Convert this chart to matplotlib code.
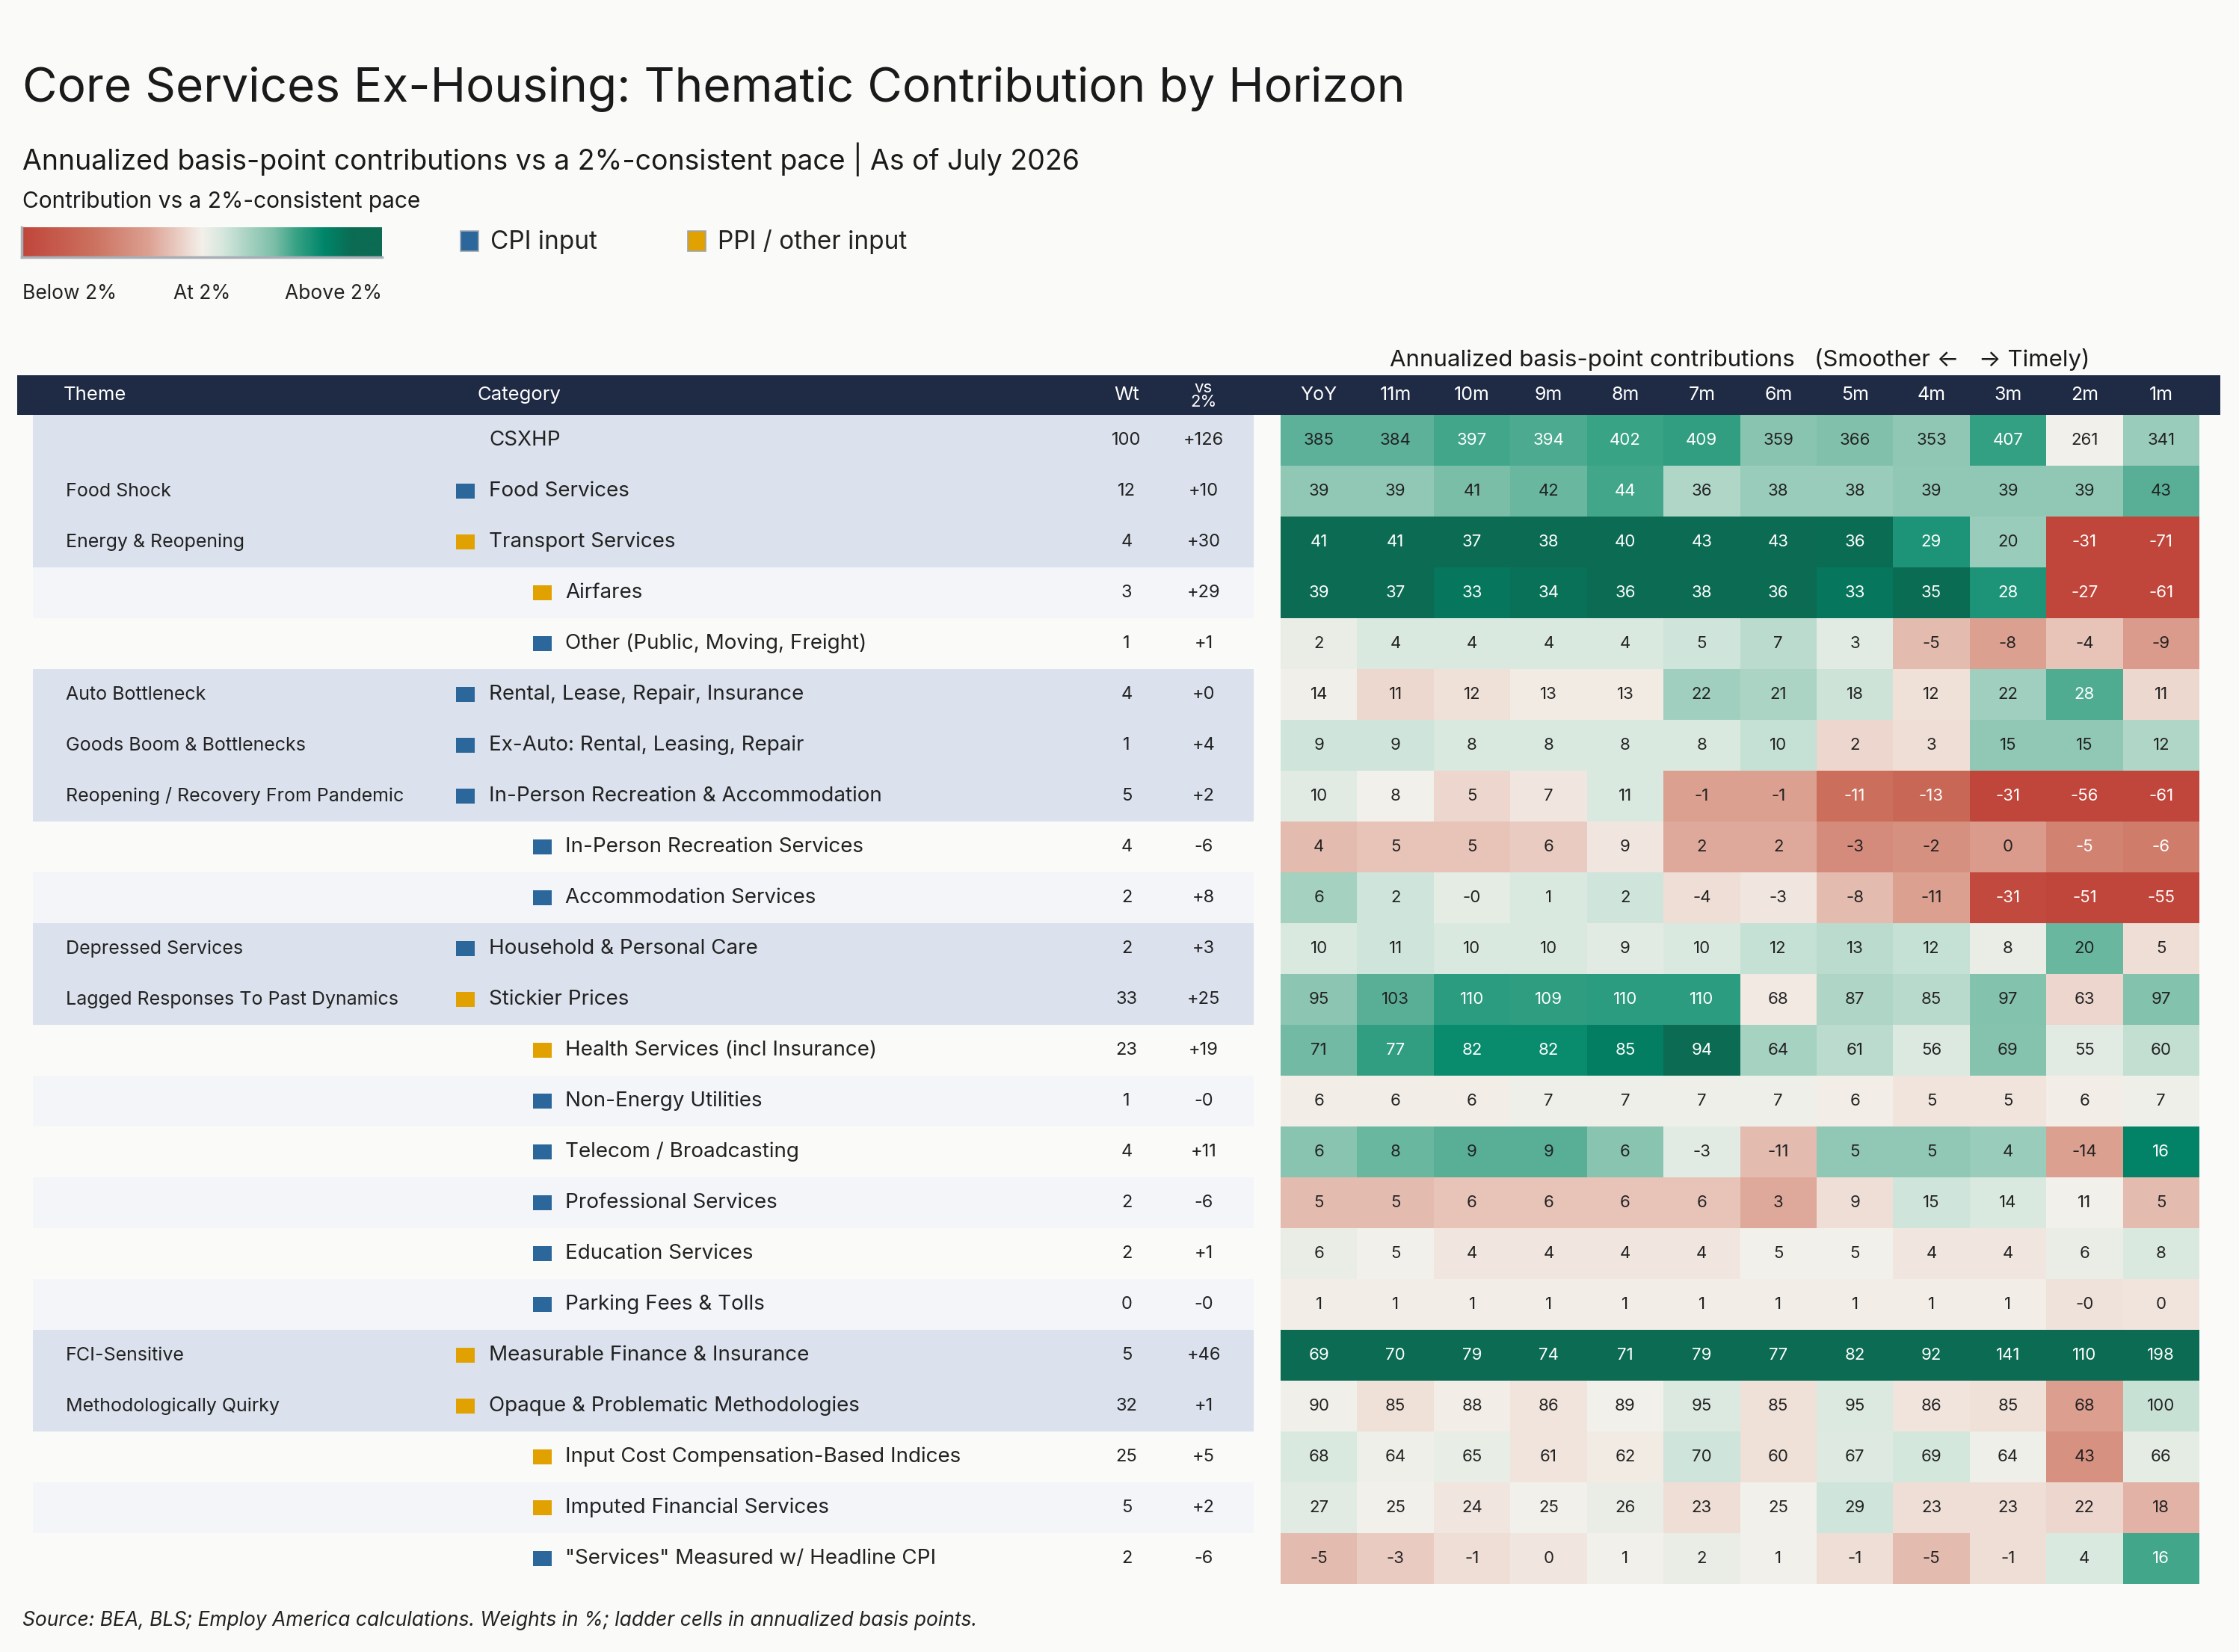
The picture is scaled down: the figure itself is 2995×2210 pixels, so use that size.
import numpy as np
import matplotlib
matplotlib.use("Agg")
import matplotlib.pyplot as plt
from matplotlib.colors import LinearSegmentedColormap
from matplotlib.patches import Rectangle

plt.rcParams['font.family'] = ['Inter', 'DejaVu Sans']

# ---------------- data ----------------
horizons = ['YoY', '11m', '10m', '9m', '8m', '7m', '6m', '5m', '4m', '3m', '2m', '1m']

themes = ['', 'Food Shock', 'Energy & Reopening', '', '', 'Auto Bottleneck',
          'Goods Boom & Bottlenecks', 'Reopening / Recovery From Pandemic', '', '',
          'Depressed Services', 'Lagged Responses To Past Dynamics', '', '', '', '', '', '',
          'FCI-Sensitive', 'Methodologically Quirky', '', '', '']

categories = ['CSXHP', 'Food Services', 'Transport Services', 'Airfares',
              'Other (Public, Moving, Freight)', 'Rental, Lease, Repair, Insurance',
              'Ex-Auto: Rental, Leasing, Repair', 'In-Person Recreation & Accommodation',
              'In-Person Recreation Services', 'Accommodation Services',
              'Household & Personal Care', 'Stickier Prices', 'Health Services (incl Insurance)',
              'Non-Energy Utilities', 'Telecom / Broadcasting', 'Professional Services',
              'Education Services', 'Parking Fees & Tolls', 'Measurable Finance & Insurance',
              'Opaque & Problematic Methodologies', 'Input Cost Compensation-Based Indices',
              'Imputed Financial Services', '"Services" Measured w/ Headline CPI']

levels = [0, 1, 1, 2, 2, 1, 1, 1, 2, 2, 1, 1, 2, 2, 2, 2, 2, 2, 1, 1, 2, 2, 2]

inputs = ['', 'CPI', 'PPI', 'PPI', 'CPI', 'CPI', 'CPI', 'CPI', 'CPI', 'CPI', 'CPI', 'PPI',
          'PPI', 'CPI', 'CPI', 'CPI', 'CPI', 'CPI', 'PPI', 'PPI', 'PPI', 'PPI', 'CPI']

weights = [100, 12, 4, 3, 1, 4, 1, 5, 4, 2, 2, 33, 23, 1, 4, 2, 2, 0, 5, 32, 25, 5, 2]

vs_2pct = [126, 10, 30, 29, 1, 0.3, 4, 2, -6, 8, 3, 25, 19, -0.3, 11, -6, 1, -0.3,
           46, 1, 5, 2, -6]

ladder = [
    [385, 384, 397, 394, 402, 409, 359, 366, 353, 407, 261, 341],
    [39, 39, 41, 42, 44, 36, 38, 38, 39, 39, 39, 43],
    [41, 41, 37, 38, 40, 43, 43, 36, 29, 20, -31, -71],
    [39, 37, 33, 34, 36, 38, 36, 33, 35, 28, -27, -61],
    [2, 4, 4, 4, 4, 5, 7, 3, -5, -8, -4, -9],
    [14, 11, 12, 13, 13, 22, 21, 18, 12, 22, 28, 11],
    [9, 9, 8, 8, 8, 8, 10, 2, 3, 15, 15, 12],
    [10, 8, 5, 7, 11, -1, -1, -11, -13, -31, -56, -61],
    [4, 5, 5, 6, 9, 2, 2, -3, -2, 0, -5, -6],
    [6, 2, -0.2, 1, 2, -4, -3, -8, -11, -31, -51, -55],
    [10, 11, 10, 10, 9, 10, 12, 13, 12, 8, 20, 5],
    [95, 103, 110, 109, 110, 110, 68, 87, 85, 97, 63, 97],
    [71, 77, 82, 82, 85, 94, 64, 61, 56, 69, 55, 60],
    [6, 6, 6, 7, 7, 7, 7, 6, 5, 5, 6, 7],
    [6, 8, 9, 9, 6, -3, -11, 5, 5, 4, -14, 16],
    [5, 5, 6, 6, 6, 6, 3, 9, 15, 14, 11, 5],
    [6, 5, 4, 4, 4, 4, 5, 5, 4, 4, 6, 8],
    [1, 1, 1, 1, 1, 1, 1, 1, 1, 1, -0.2, 0],
    [69, 70, 79, 74, 71, 79, 77, 82, 92, 141, 110, 198],
    [90, 85, 88, 86, 89, 95, 85, 95, 86, 85, 68, 100],
    [68, 64, 65, 61, 62, 70, 60, 67, 69, 64, 43, 66],
    [27, 25, 24, 25, 26, 23, 25, 29, 23, 23, 22, 18],
    [-5, -3, -1, 0, 1, 2, 1, -1, -5, -1, 4, 16],
]

# ---------------- style ----------------
W, H = 2995, 2210
BG = '#fafaf8'
NAVY = '#1f2a44'
TXT = '#222222'
CPI_C = '#2c679b'
PPI_C = '#e1a100'
TOP_ROW = '#dbe2ed'
ALT_ROW = '#f3f5f9'

cmap = LinearSegmentedColormap.from_list('bp', [
    (0.00, '#c0453a'), (0.20, '#cc7260'), (0.35, '#dca091'), (0.45, '#ecd5cc'),
    (0.50, '#f3f0ea'), (0.56, '#d5e7dd'), (0.63, '#a7d2c2'), (0.70, '#7dbfa9'),
    (0.76, '#3aa386'), (0.84, '#00866a'), (0.92, '#0b6b53'), (1.00, '#0b6b53')])

vals = np.array(ladder, dtype=float)
wts = np.array(weights, dtype=float)
base = vals[:, 0] - np.array(vs_2pct)          # 2%-consistent pace per row
scale = np.maximum(30, wts ** 1.22)
norm = np.clip((vals - base[:, None]) / scale[:, None], -1, 1)

n_rows, n_cols = vals.shape

def fx(x):
    return x / W

def fy(y):
    return 1 - y / H

fig = plt.figure(figsize=(W / 100, H / 100), dpi=100, facecolor=BG)

# ---------------- titles ----------------
fig.text(fx(30), fy(135), 'Core Services Ex-Housing: Thematic Contribution by Horizon',
         fontsize=46, color='#1a1a1a', va='baseline')
fig.text(fx(30), fy(227), 'Annualized basis-point contributions vs a 2%-consistent pace | As of July 2026',
         fontsize=27, color='#1a1a1a', va='baseline')
fig.text(fx(30), fy(278), 'Contribution vs a 2%-consistent pace',
         fontsize=21.5, color='#1a1a1a', va='baseline')

# colour legend
cax = fig.add_axes([fx(29), fy(344), 482 / W, 40 / H])
cax.imshow(np.linspace(0, 1, 256)[None, :], aspect='auto', cmap=cmap)
cax.set_xticks([])
cax.set_yticks([])
for side in ['top', 'right']:
    cax.spines[side].set_visible(False)
for side in ['left', 'bottom']:
    cax.spines[side].set_color('#a8aeb6')
    cax.spines[side].set_linewidth(2.5)
fig.text(fx(30), fy(400), 'Below 2%', fontsize=19, color=TXT, va='baseline', ha='left')
fig.text(fx(270), fy(400), 'At 2%', fontsize=19, color=TXT, va='baseline', ha='center')
fig.text(fx(511), fy(400), 'Above 2%', fontsize=19, color=TXT, va='baseline', ha='right')

for x0, label, col in [(616, 'CPI input', CPI_C), (920, 'PPI / other input', PPI_C)]:
    fig.patches.append(Rectangle((fx(x0), fy(336)), 24 / W, 27 / H, transform=fig.transFigure,
                                 facecolor=col, edgecolor='#9aa5b1', linewidth=1.2))
    fig.text(fx(x0 + 40), fy(333), label, fontsize=24, color=TXT, va='baseline')

# ---------------- left table ----------------
row_px = 68
hdr = 53 / row_px
tab = fig.add_axes([0, fy(2119), 1, (2119 - 502) / H])
tab.set_xlim(0, W)
tab.set_ylim(n_rows, -hdr)
tab.axis('off')

tab.add_patch(Rectangle((23, -hdr), 2970 - 23, hdr, facecolor=NAVY, edgecolor='none'))
hy = -hdr / 2
tab.text(85, hy, 'Theme', color='white', fontsize=18.5, va='center')
tab.text(638, hy, 'Category', color='white', fontsize=18.5, va='center')
tab.text(1507, hy, 'Wt', color='white', fontsize=18.5, va='center', ha='center')
tab.text(1610, hy, 'vs\n2%', color='white', fontsize=16, va='center', ha='center',
         linespacing=0.95)
cell_w = (2942 - 1713) / n_cols
for j, h in enumerate(horizons):
    tab.text(1713 + cell_w * (j + 0.5), hy, h, color='white', fontsize=18,
             va='center', ha='center')

fig.text(fx(2327), fy(490), 'Annualized basis-point contributions   (Smoother \u2190   \u2192 Timely)',
         fontsize=22.5, color='#1a1a1a', va='baseline', ha='center')

for i in range(n_rows):
    if levels[i] <= 1:
        tab.add_patch(Rectangle((44, i), 1677 - 44, 1, facecolor=TOP_ROW, edgecolor='none'))
    elif i % 2 == 1:
        tab.add_patch(Rectangle((44, i), 1677 - 44, 1, facecolor=ALT_ROW, edgecolor='none'))
    yc = i + 0.5
    if themes[i]:
        tab.text(88, yc, themes[i], fontsize=18, color=TXT, va='center')
    sq_x = 610 if levels[i] <= 1 else 713
    tx = 654 if levels[i] <= 1 else 756
    if inputs[i]:
        tab.add_patch(Rectangle((sq_x, yc - 0.14), 25, 0.28,
                                facecolor=CPI_C if inputs[i] == 'CPI' else PPI_C,
                                edgecolor='none'))
    tab.text(tx, yc, categories[i], fontsize=20, color=TXT, va='center')
    tab.text(1507, yc, f'{weights[i]:.0f}', fontsize=17, color=TXT, va='center', ha='center')
    tab.text(1610, yc, f'{vs_2pct[i]:+.0f}', fontsize=17, color=TXT, va='center', ha='center')

# ---------------- heatmap ladder ----------------
hm = fig.add_axes([fx(1713), fy(2119), (2942 - 1713) / W, (2119 - 555) / H])
hm.pcolormesh(np.arange(n_cols + 1), np.arange(n_rows + 1), norm, cmap=cmap,
              vmin=-1, vmax=1, shading='flat')
hm.set_xlim(0, n_cols)
hm.set_ylim(n_rows, 0)
hm.axis('off')
for i in range(n_rows):
    for j in range(n_cols):
        n = norm[i, j]
        c = 'white' if (n >= 0.47 or n <= -0.45) else TXT
        hm.text(j + 0.5, i + 0.5, f'{vals[i, j]:.0f}', ha='center', va='center',
                fontsize=16, color=c)

fig.text(fx(30), fy(2175), 'Source: BEA, BLS; Employ America calculations. Weights in %; ladder cells in annualized basis points.',
         fontsize=19, style='italic', color=TXT, va='baseline')

fig.savefig('out.png', dpi=100, facecolor=BG)
